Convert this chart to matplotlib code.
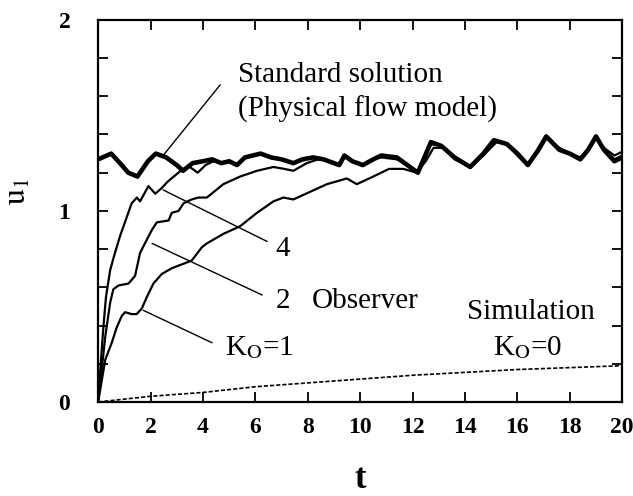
import numpy as np
import matplotlib
matplotlib.use('Agg')
from matplotlib import pyplot as plt

plt.rcParams['font.family'] = ['Liberation Serif', 'DejaVu Serif']
plt.rcParams['mathtext.fontset'] = 'stix'

# standard solution (physical flow model), thick line
std_t = [0, 0.5, 0.9, 1.15, 1.5, 1.9, 2.2, 2.6, 3.0, 3.24, 3.6, 4.0, 4.35, 4.7, 5.0,
         5.3, 5.6, 6.2, 6.6, 7.0, 7.45, 7.8, 8.2, 8.6, 9.2, 9.4, 9.7, 10.1, 10.5,
         10.8, 11.4, 11.8, 12.2, 12.7, 13.1, 13.6, 14.2, 14.7, 15.1, 15.6, 16.0,
         16.4, 16.8, 17.1, 17.6, 18.0, 18.4, 18.7, 19.0, 19.3, 19.7, 20.0]
std_u = [1.27, 1.30, 1.24, 1.20, 1.18, 1.26, 1.30, 1.28, 1.24, 1.21, 1.25, 1.26, 1.27,
         1.25, 1.26, 1.24, 1.28, 1.30, 1.28, 1.27, 1.25, 1.27, 1.28, 1.27, 1.24, 1.29,
         1.26, 1.24, 1.27, 1.29, 1.28, 1.24, 1.20, 1.36, 1.34, 1.28, 1.23, 1.30, 1.37,
         1.35, 1.30, 1.24, 1.32, 1.39, 1.32, 1.30, 1.27, 1.32, 1.39, 1.32, 1.26, 1.28]

# observer, K_O = 4
k4_t = [0, 0.04, 0.1, 0.2, 0.3, 0.46, 0.6, 0.84, 1.1, 1.28, 1.48, 1.6, 1.92, 2.18, 2.43,
        2.63, 2.8, 3.24, 3.5, 3.8, 4.1, 4.4, 4.7, 5.0, 5.3, 5.6, 6.2, 6.6, 7.0, 7.45,
        7.8, 8.2, 8.6, 9.2, 9.4, 9.7, 10.1, 10.5, 10.8, 11.4, 11.8, 12.2, 12.7, 13.1,
        13.6, 14.2, 14.7, 15.1, 15.6, 16.0, 16.4, 16.8, 17.1, 17.6, 18.0, 18.4, 18.7,
        19.0, 19.3, 19.7, 20.0]
k4_u = [0, 0.08, 0.20, 0.39, 0.55, 0.69, 0.76, 0.87, 0.97, 1.04, 1.07, 1.05, 1.13, 1.09,
        1.12, 1.15, 1.17, 1.22, 1.23, 1.20, 1.24, 1.26, 1.25, 1.26, 1.24, 1.28, 1.30,
        1.28, 1.27, 1.25, 1.27, 1.28, 1.27, 1.24, 1.29, 1.26, 1.24, 1.27, 1.29, 1.28,
        1.24, 1.20, 1.36, 1.34, 1.28, 1.23, 1.30, 1.37, 1.35, 1.30, 1.24, 1.32, 1.39,
        1.32, 1.30, 1.27, 1.32, 1.39, 1.32, 1.26, 1.28]

# observer, K_O = 2
k2_t = [0, 0.1, 0.27, 0.46, 0.58, 0.78, 1.16, 1.41, 1.6, 1.86, 2.05, 2.24, 2.69, 2.81,
        3.07, 3.26, 3.57, 3.83, 4.15, 4.78, 5.42, 6.06, 6.69, 7.1, 7.45, 7.96, 8.4,
        8.6, 9.2, 9.4, 9.7, 10.1, 10.5, 10.8, 11.4, 11.8, 12.2, 12.7, 13.1, 13.6, 14.2,
        14.7, 15.1, 15.6, 16.0, 16.4, 16.8, 17.1, 17.6, 18.0, 18.4, 18.7, 19.0, 19.3,
        19.7, 20.0]
k2_u = [0, 0.12, 0.34, 0.52, 0.59, 0.61, 0.62, 0.66, 0.78, 0.85, 0.90, 0.94, 0.95, 0.99,
        1.00, 1.04, 1.06, 1.07, 1.07, 1.14, 1.18, 1.21, 1.23, 1.22, 1.21, 1.25, 1.27,
        1.27, 1.24, 1.28, 1.26, 1.24, 1.27, 1.28, 1.27, 1.24, 1.20, 1.35, 1.34, 1.28,
        1.23, 1.30, 1.37, 1.35, 1.30, 1.24, 1.32, 1.39, 1.32, 1.30, 1.27, 1.32, 1.39,
        1.32, 1.27, 1.29]

# observer, K_O = 1
k1_t = [0, 0.1, 0.27, 0.52, 0.71, 0.9, 1.03, 1.28, 1.47, 1.67, 1.86, 2.11, 2.43, 2.81,
        3.19, 3.57, 3.96, 4.15, 4.78, 5.42, 6.06, 6.69, 7.07, 7.45, 8.09, 8.73, 9.49,
        9.87, 10.5, 11.1, 11.65, 12.16, 12.5, 12.8, 13.2, 13.6, 14.2, 14.7, 15.2, 15.6,
        16.0, 16.4, 16.8, 17.1, 17.6, 18.0, 18.4, 18.7, 19.0, 19.3, 19.7, 20.0]
k1_u = [0, 0.08, 0.22, 0.31, 0.39, 0.45, 0.47, 0.46, 0.46, 0.49, 0.55, 0.62, 0.67, 0.70,
        0.72, 0.74, 0.81, 0.83, 0.88, 0.92, 0.99, 1.05, 1.07, 1.06, 1.10, 1.14, 1.17,
        1.14, 1.18, 1.22, 1.22, 1.20, 1.26, 1.33, 1.33, 1.27, 1.23, 1.29, 1.36, 1.35,
        1.29, 1.24, 1.31, 1.38, 1.33, 1.30, 1.28, 1.32, 1.38, 1.33, 1.29, 1.31]

# simulation, K_O = 0
sim_t = [0, 2, 4, 6, 8, 10, 12, 14, 16, 18, 20]
sim_u = [0, 0.03, 0.05, 0.08, 0.10, 0.12, 0.14, 0.155, 0.17, 0.18, 0.19]

xticks = np.arange(0, 21, 2)
yticks = np.arange(0, 2.01, 0.2)
ylabels = ['0', '', '', '', '', '1', '', '', '', '', '2']

fig = plt.figure(figsize=(6.33, 4.96), dpi=100)
ax = fig.add_axes([0.155, 0.1895, 0.828, 0.7705])

ax.plot(sim_t, sim_u, color='black', lw=1.2, linestyle=(0, (2.5, 1.2)))
ax.plot(k1_t, k1_u, color='black', lw=1.6)
ax.plot(k2_t, k2_u, color='black', lw=1.6)
ax.plot(k4_t, k4_u, color='black', lw=1.6)
ax.plot(std_t, std_u, color='black', lw=3.3)

ax.set_xlim(0, 20)
ax.set_ylim(0, 2)
ax.set_xticks(xticks)
ax.set_yticks(yticks)
ax.set_yticklabels(ylabels)
for lab in ax.get_xticklabels() + ax.get_yticklabels():
    lab.set_fontweight('bold')
ax.tick_params(direction='in', length=7, width=1.3, labelsize=17,
               top=True, right=True)
ax.tick_params(axis='x', pad=11)
ax.tick_params(axis='y', pad=20)
for s in ax.spines.values():
    s.set_linewidth(1.6)

ax.set_xlabel('t', fontsize=25, fontweight='bold', labelpad=18)
ax.set_ylabel(r'$\mathrm{u}_1$', fontsize=23)
ax.yaxis.set_label_coords(-0.125, 0.55)

txt = dict(fontsize=21, color='black')
line = dict(arrowstyle='-', color='black', lw=1.0, shrinkA=0, shrinkB=0)

ax.text(5.34, 1.71, 'Standard solution', ha='left', va='center', **txt)
ax.text(5.34, 1.53, '(Physical flow model)', ha='left', va='center', **txt)
ax.annotate('', xy=(2.48, 1.29), xytext=(4.66, 1.66), arrowprops=line)

ax.text(7.06, 0.80, '4', ha='center', va='center', **txt)
ax.annotate('', xy=(2.48, 1.11), xytext=(6.45, 0.84), arrowprops=line)

ax.text(7.06, 0.53, '2', ha='center', va='center', **txt)
ax.text(10.2, 0.53, 'Observer', ha='center', va='center', **txt)
ax.annotate('', xy=(2.06, 0.83), xytext=(6.26, 0.56), arrowprops=line)

ax.text(4.85, 0.285, r'K$_\mathrm{O}$=1', ha='left', va='center', **txt)
ax.annotate('', xy=(1.72, 0.48), xytext=(4.35, 0.31), arrowprops=line)

ax.text(16.5, 0.47, 'Simulation', ha='center', va='center', **txt)
ax.text(16.4, 0.285, r'K$_\mathrm{O}$=0', ha='center', va='center', **txt)

fig.savefig('out.png', dpi=100)
